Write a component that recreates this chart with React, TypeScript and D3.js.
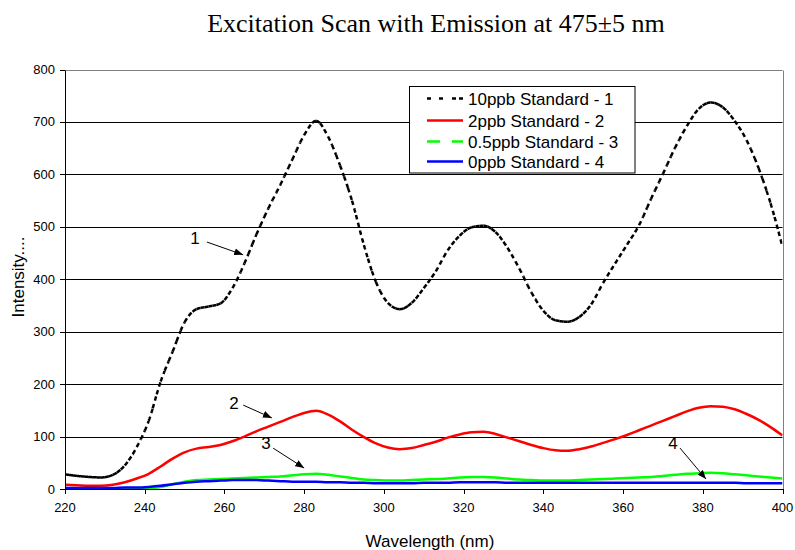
import React, { useLayoutEffect, useRef, useState } from "react";
import * as d3 from "d3";

// ---------- data ----------
const wavelengths = [
  220, 223, 226, 229, 232, 235, 238, 241, 244, 247, 250, 253, 256, 259, 262, 265,
  268, 271, 274, 277, 280, 283, 286, 289, 292, 295, 298, 301, 304, 307, 310, 313,
  316, 319, 322, 325, 328, 331, 334, 337, 340, 343, 346, 349, 352, 355, 358, 361,
  364, 367, 370, 373, 376, 379, 382, 385, 388, 391, 394, 397, 400,
];

const std10 = [
  28, 25, 23, 22, 27, 45, 80, 130, 205, 262, 318, 343, 348, 354, 383, 430,
  485, 535, 580, 628, 675, 702, 672, 617, 550, 465, 395, 355, 343, 355, 383, 415,
  455, 483, 499, 502, 490, 460, 420, 375, 340, 322, 319, 328, 352, 393, 430, 466,
  503, 553, 601, 650, 692, 725, 737, 728, 702, 665, 612, 545, 462,
];

const std2 = [
  8, 7, 6, 6, 8, 13, 20, 29, 43, 58, 70, 77, 80, 84, 91, 100,
  110, 119, 128, 137, 145, 149, 142, 129, 113, 99, 87, 79, 76, 78, 84, 90,
  98, 104, 108, 109, 105, 98, 91, 84, 78, 74, 73, 76, 81, 88, 95, 103,
  112, 121, 130, 139, 148, 155, 158, 157, 152, 143, 132, 118, 102,
];

const std05 = [
  0, 0, 0, 0, 0, 0, 0, 1, 4, 9, 14, 17, 18, 19, 20, 21,
  22, 23, 24, 26, 28, 29, 27, 24, 21, 18, 17, 16, 16, 17, 18, 19,
  20, 22, 23, 23, 22, 20, 18, 17, 16, 16, 16, 17, 18, 19, 20, 21,
  22, 23, 25, 27, 29, 30, 31, 30, 28, 26, 24, 22, 20,
];

const std0 = [
  2, 2, 2, 2, 2, 3, 3, 4, 6, 9, 12, 14, 15, 16, 17, 17,
  17, 16, 15, 14, 14, 14, 13, 13, 12, 12, 11, 11, 11, 11, 12, 12,
  12, 13, 13, 13, 13, 12, 12, 12, 12, 12, 12, 12, 12, 12, 12, 12,
  12, 12, 12, 12, 12, 12, 12, 12, 12, 11, 11, 11, 11,
];

const seriesNames = [
  "10ppb Standard - 1",
  "2ppb Standard - 2",
  "0.5ppb Standard - 3",
  "0ppb Standard - 4",
];
const seriesColors = ["#000000", "#ff0000", "#00ff00", "#0000ff"];

const xTicks = [220, 240, 260, 280, 300, 320, 340, 360, 380, 400];
const yTicks = [0, 100, 200, 300, 400, 500, 600, 700, 800];

// annotation labels + arrows, in data coordinates (wavelength, intensity)
const annoLabels = ["1", "2", "3", "4"];
const annoLabelPos = [
  [252.6, 479],
  [262.4, 164],
  [270.4, 88],
  [372.5, 88],
];
const annoArrowFrom = [
  [255.6, 471],
  [264.7, 160],
  [272.2, 78],
  [374.3, 78],
];
const annoArrowTo = [
  [264.7, 446.6],
  [271.9, 135.5],
  [280.0, 40],
  [380.8, 19],
];

const titleText = "Excitation Scan with Emission at 475±5 nm";
const xTitle = "Wavelength (nm)";
const yTitle = "Intensity....";

// ---------- layout ----------
const W = 795;
const H = 550;
const left = 65;
const right = 782.5;
const top = 69.5;
const bottom = 489;
const SANS = "'Liberation Sans', Arial, Helvetica, sans-serif";
const SERIF = "'Liberation Serif', 'Times New Roman', serif";

const x = d3.scaleLinear().domain([220, 400]).range([left, right]);
const y = d3.scaleLinear().domain([0, 800]).range([bottom, top]);

const line = d3
  .line<number>()
  .x((_, i) => x(wavelengths[i]))
  .y((v) => y(v))
  .curve(d3.curveMonotoneX);

// Dotted line whose dash pattern restarts at every 1 nm step (as the original renderer does)
function DottedCurve({ d, color }: { d: string; color: string }) {
  const ref = useRef<SVGPathElement>(null);
  const [segs, setSegs] = useState<string[]>([]);
  useLayoutEffect(() => {
    const p = ref.current;
    if (!p) return;
    const bounds: number[] = [];
    for (let w = 220; w <= 400; w += 1) bounds.push(x(w));
    const L = p.getTotalLength();
    const pts: [number, number][] = [];
    for (let l = 0; l < L; l += 0.4) {
      const q = p.getPointAtLength(l);
      pts.push([q.x, q.y]);
    }
    const e = p.getPointAtLength(L);
    pts.push([e.x, e.y]);
    const out: string[] = [];
    const fmt = (c: [number, number][]) =>
      "M" + c.map((v) => v[0].toFixed(2) + "," + v[1].toFixed(2)).join("L");
    let bi = 1;
    let cur: [number, number][] = [pts[0]];
    for (let i = 1; i < pts.length; i++) {
      const pt = pts[i];
      while (bi < bounds.length - 1 && pt[0] >= bounds[bi]) {
        const prev = cur[cur.length - 1];
        const dx = pt[0] - prev[0];
        const t = dx === 0 ? 0 : (bounds[bi] - prev[0]) / dx;
        const c: [number, number] = [bounds[bi], prev[1] + t * (pt[1] - prev[1])];
        cur.push(c);
        out.push(fmt(cur));
        cur = [c];
        bi++;
      }
      cur.push(pt);
    }
    if (cur.length > 1) out.push(fmt(cur));
    setSegs(out);
  }, [d]);
  return (
    <g>
      <path ref={ref} d={d} fill="none" stroke="none" />
      {segs.map((s, i) => (
        <path
          key={i}
          d={s}
          fill="none"
          stroke={color}
          strokeWidth={2.5}
          strokeDasharray="4.5 3.5"
        />
      ))}
    </g>
  );
}

export default function App() {
  const series = [std10, std2, std05, std0];
  const crisp = (v: number) => Math.round(v) + 0.5;

  const legendX = 409.5;
  const legendY = 86.5;
  const legendW = 225.5;
  const legendH = 86.5;
  const rowY = [98.5, 120.5, 141.5, 161.5];
  const legendDash = ["4 8 4 9 4 3 4", "none", "13 12 12", "none"];

  return (
    <svg
      width={W}
      height={H}
      viewBox={`0 0 ${W} ${H}`}
      style={{ position: "absolute", left: 0, top: 0, background: "#fff" }}
    >
      <defs>
        <clipPath id="plotClip">
          <rect x={left} y={top - 2} width={right - left} height={bottom - top + 2} />
        </clipPath>
        <marker
          id="arrowHead"
          markerUnits="userSpaceOnUse"
          markerWidth={9}
          markerHeight={7}
          refX={9}
          refY={3.5}
          orient="auto"
        >
          <path d="M0,0 L9,3.5 L0,7 z" fill="#000" />
        </marker>
      </defs>
      <rect x={0} y={0} width={W} height={H} fill="#fff" />

      {/* title */}
      <text x={436} y={32} textAnchor="middle" fontFamily={SERIF} fontSize={26} fill="#000">
        {titleText}
      </text>

      {/* gridlines */}
      {yTicks
        .filter((t) => t > 0 && t < 800)
        .map((t) => (
          <line
            key={t}
            x1={left}
            x2={right}
            y1={crisp(y(t))}
            y2={crisp(y(t))}
            stroke="#000"
            strokeWidth={1}
          />
        ))}
      {/* top + right frame */}
      <line x1={left} x2={right} y1={crisp(y(800))} y2={crisp(y(800))} stroke="#808080" strokeWidth={1} />
      <line x1={crisp(right)} x2={crisp(right)} y1={crisp(y(800))} y2={crisp(bottom)} stroke="#808080" strokeWidth={1} />

      {/* curves */}
      <g clipPath="url(#plotClip)">
        <DottedCurve d={line(std10) || ""} color={seriesColors[0]} />
        {series.slice(1).map((s, i) => (
          <path
            key={i}
            d={line(s) || ""}
            fill="none"
            stroke={seriesColors[i + 1]}
            strokeWidth={2.5}
            strokeLinejoin="round"
          />
        ))}
      </g>

      {/* axes */}
      <line x1={crisp(left)} x2={crisp(left)} y1={crisp(top)} y2={crisp(bottom)} stroke="#000" strokeWidth={1} />
      <line x1={left} x2={right + 1} y1={crisp(bottom)} y2={crisp(bottom)} stroke="#000" strokeWidth={1} />
      {yTicks.map((t) => (
        <g key={t}>
          <line x1={left - 5} x2={left} y1={crisp(y(t))} y2={crisp(y(t))} stroke="#000" strokeWidth={1} />
          <text
            x={55}
            y={y(t) + 4.5}
            textAnchor="end"
            fontFamily={SANS}
            fontSize={13}
            fill="#000"
          >
            {t}
          </text>
        </g>
      ))}
      {xTicks.map((t) => (
        <g key={t}>
          <line x1={crisp(x(t))} x2={crisp(x(t))} y1={bottom} y2={bottom + 5} stroke="#000" strokeWidth={1} />
          <text x={x(t)} y={512} textAnchor="middle" fontFamily={SANS} fontSize={13} fill="#000">
            {t}
          </text>
        </g>
      ))}

      {/* axis titles */}
      <text x={430} y={547} textAnchor="middle" fontFamily={SANS} fontSize={17} fill="#000">
        {xTitle}
      </text>
      <text
        transform={`translate(24,277) rotate(-90)`}
        textAnchor="middle"
        fontFamily={SANS}
        fontSize={17}
        fill="#000"
      >
        {yTitle}
      </text>

      {/* annotations */}
      {annoLabels.map((lab, i) => (
        <g key={lab}>
          <text
            x={x(annoLabelPos[i][0])}
            y={y(annoLabelPos[i][1]) + 6}
            textAnchor="middle"
            fontFamily={SANS}
            fontSize={17}
            fill="#000"
          >
            {lab}
          </text>
          <line
            x1={x(annoArrowFrom[i][0])}
            y1={y(annoArrowFrom[i][1])}
            x2={x(annoArrowTo[i][0])}
            y2={y(annoArrowTo[i][1])}
            stroke="#000"
            strokeWidth={1}
            markerEnd="url(#arrowHead)"
          />
        </g>
      ))}

      {/* legend */}
      <rect x={legendX} y={legendY} width={legendW} height={legendH} fill="#fff" stroke="#000" strokeWidth={1} />
      {seriesNames.map((name, i) => (
        <g key={name}>
          <line
            x1={427}
            x2={463}
            y1={rowY[i]}
            y2={rowY[i]}
            stroke={seriesColors[i]}
            strokeWidth={2.5}
            strokeDasharray={legendDash[i]}
          />
          <text x={468} y={rowY[i] + 6} fontFamily={SANS} fontSize={17} fill="#000">
            {name}
          </text>
        </g>
      ))}
    </svg>
  );
}
